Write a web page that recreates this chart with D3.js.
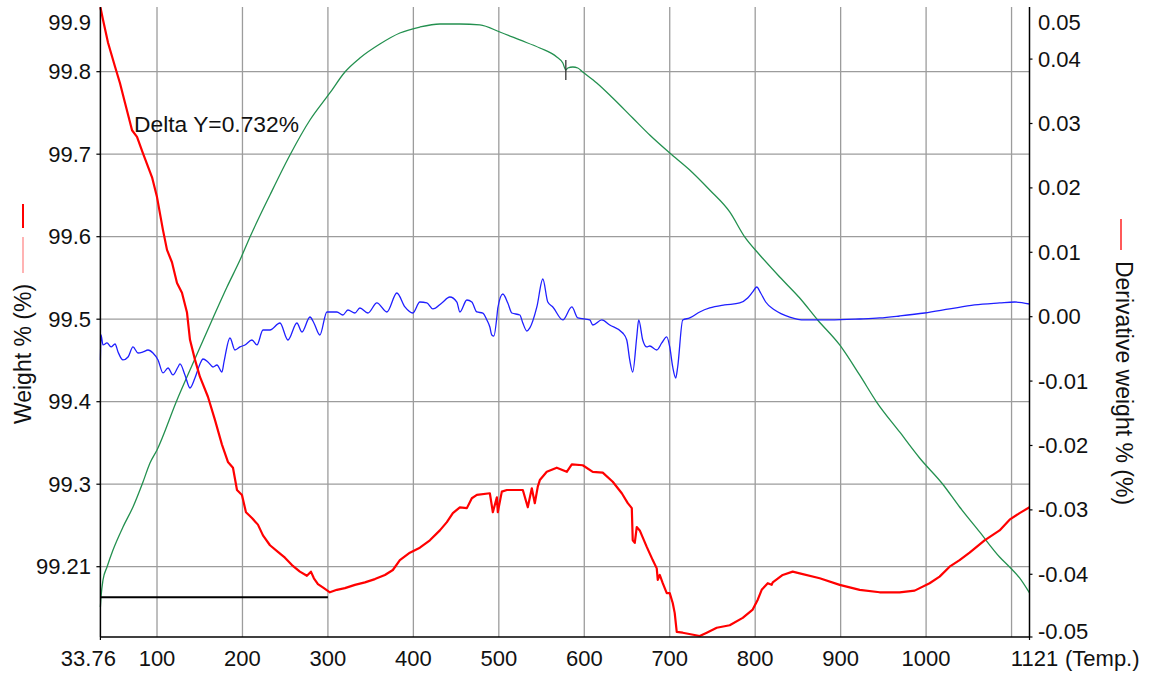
<!DOCTYPE html>
<html>
<head>
<meta charset="utf-8">
<script src="https://cdn.jsdelivr.net/npm/d3@7"></script>
<style>
  html, body { margin: 0; padding: 0; background: #fff; }
  svg { display: block; }
  text { font-family: "Liberation Sans", Arial, sans-serif; fill: #111; }
</style>
</head>
<body>
<svg id="chart" width="1154" height="674"></svg>
<script>
// ---- Weight % vs temperature (left axis) ----
const weightTemp = [33.76, 36.8, 42.7, 50.9, 56.7, 62.6, 70.8, 76.6, 83.6, 94.2, 100, 107, 111.7, 117.5, 123.4, 129.2, 135.1, 138.6, 144.4, 150.3, 159.6, 167.8, 176.0, 183.0, 188.9, 193.6, 199.4, 204.1, 211.1, 218.1, 224.0, 232.2, 241.5, 249.7, 257.9, 267.2, 275.4, 280.1, 283.6, 288.3, 295.3, 302.3, 310.5, 319.9, 331.6, 343.3, 355.0, 366.7, 376.0, 384.2, 395.9, 407.6, 419.3, 431.0, 439.2, 446.2, 454.4, 462.6, 468.4, 474.3, 489.5, 493.0, 497.7, 498.8, 503.5, 509.4, 528.1, 533.9, 538.6, 542.1, 545.6, 548.0, 556.1, 567.8, 579.5, 585.4, 598.2, 609.9, 621.6, 633.3, 643.9, 650.9, 655.6, 656.7, 659.1, 661.4, 664.9, 673.1, 680.1, 684.8, 686.0, 688.3, 691.8, 696.5, 700.0, 703.5, 705.8, 708.2, 715.2, 735.1, 743.3, 755.0, 770.2, 785.4, 797.1, 803.0, 807.6, 814.7, 819.3, 820.5, 832.2, 843.9, 852.1, 875.5, 898.9, 922.3, 945.6, 969.0, 986.6, 1004.1, 1015.8, 1027.5, 1039.2, 1050.9, 1068.4, 1086.0, 1097.7, 1109.4, 1121];
const weightPct = [99.878, 99.863, 99.835, 99.806, 99.786, 99.762, 99.729, 99.721, 99.701, 99.672, 99.648, 99.608, 99.584, 99.569, 99.544, 99.532, 99.508, 99.475, 99.451, 99.430, 99.406, 99.378, 99.348, 99.327, 99.320, 99.293, 99.287, 99.266, 99.259, 99.251, 99.238, 99.226, 99.218, 99.211, 99.202, 99.194, 99.189, 99.194, 99.186, 99.179, 99.174, 99.169, 99.172, 99.174, 99.178, 99.181, 99.185, 99.190, 99.196, 99.208, 99.217, 99.223, 99.232, 99.244, 99.254, 99.265, 99.272, 99.271, 99.283, 99.287, 99.289, 99.266, 99.284, 99.266, 99.291, 99.293, 99.293, 99.272, 99.295, 99.277, 99.297, 99.305, 99.315, 99.320, 99.315, 99.324, 99.323, 99.315, 99.314, 99.303, 99.289, 99.277, 99.271, 99.232, 99.229, 99.248, 99.244, 99.224, 99.208, 99.198, 99.184, 99.190, 99.180, 99.168, 99.168, 99.156, 99.144, 99.121, 99.120, 99.116, 99.120, 99.126, 99.129, 99.138, 99.148, 99.160, 99.172, 99.180, 99.178, 99.181, 99.190, 99.194, 99.192, 99.186, 99.178, 99.172, 99.169, 99.169, 99.171, 99.180, 99.188, 99.200, 99.208, 99.217, 99.232, 99.244, 99.257, 99.265, 99.272];

// ---- Derivative weight % vs temperature (right axis) ----
const derivTemp = [33.76, 34.5, 36.8, 41.5, 46.2, 50.9, 54.4, 60.2, 66.1, 71.9, 77.8, 83.6, 89.5, 95.3, 101.2, 107.0, 112.9, 118.7, 124.6, 126.9, 132.7, 138.6, 144.4, 150.3, 153.8, 159.6, 165.5, 170.2, 176.0, 178.4, 185.4, 191.2, 197.1, 202.9, 211.1, 217.0, 224.0, 232.2, 243.9, 253.2, 263.7, 269.6, 279.0, 283.6, 290.6, 298.8, 310.5, 317.5, 323.4, 331.6, 337.4, 346.8, 357.3, 369.0, 380.7, 390.1, 399.4, 407.6, 415.8, 422.8, 433.3, 442.7, 450.9, 454.4, 462.6, 468.4, 474.3, 481.3, 486.0, 489.5, 491.8, 494.2, 497.7, 498.8, 504.7, 510.5, 515.2, 524.6, 528.1, 532.8, 536.3, 544.5, 551.5, 557.3, 563.2, 574.9, 585.4, 592.4, 606.4, 610.0, 620.5, 629.8, 645.0, 649.7, 653.2, 656.7, 661.4, 663.7, 668.4, 673.1, 676.6, 684.8, 690.7, 696.5, 700.0, 703.5, 707.0, 709.3, 715.2, 723.4, 735.1, 746.8, 764.3, 781.9, 791.2, 797.1, 801.8, 806.4, 812.3, 822.8, 840.4, 857.9, 887.2, 922.2, 945.6, 969.0, 998.2, 1027.5, 1056.7, 1086.0, 1103.5, 1121];
const derivPct = [-0.00672, -0.00284, -0.00439, -0.00408, -0.00470, -0.00424, -0.00548, -0.00672, -0.00626, -0.00470, -0.00564, -0.00548, -0.00517, -0.00564, -0.00672, -0.00874, -0.00797, -0.00905, -0.00781, -0.00734, -0.00905, -0.01107, -0.00952, -0.00734, -0.00657, -0.00703, -0.00781, -0.00750, -0.00859, -0.00703, -0.00331, -0.00517, -0.00470, -0.00439, -0.00362, -0.00439, -0.00207, -0.00207, -0.00098, -0.00362, -0.00098, -0.00238, -0.00005, -0.00098, -0.00284, 0.00073, 0.00073, 0.00026, 0.00104, 0.00057, 0.00135, 0.00057, 0.00213, 0.00073, 0.00368, 0.00151, 0.00057, 0.00228, 0.00213, 0.00120, 0.00213, 0.00306, 0.00228, 0.00073, 0.00259, 0.00228, 0.00073, 0.00057, -0.00051, -0.00160, -0.00284, -0.00300, -0.00005, 0.00135, 0.00352, 0.00213, 0.00057, 0.00026, -0.00098, -0.00222, -0.00175, 0.00151, 0.00585, 0.00228, 0.00151, -0.00051, 0.00151, -0.00020, -0.00051, -0.00129, -0.00051, -0.00129, -0.00253, -0.00362, -0.00672, -0.00859, -0.00315, -0.00051, -0.00362, -0.00470, -0.00455, -0.00517, -0.00408, -0.00315, -0.00470, -0.00781, -0.00952, -0.00781, -0.00051, -0.00020, 0.00073, 0.00135, 0.00182, 0.00213, 0.00290, 0.00384, 0.00461, 0.00368, 0.00228, 0.00104, -0.00005, -0.00051, -0.00051, -0.00036, -0.00020, 0.00011, 0.00057, 0.00120, 0.00182, 0.00213, 0.00228, 0.00197];

// ---- Secondary signal (green trace, right axis) ----
const signalTemp = [33.76, 34.5, 36.8, 41.5, 48.5, 60.2, 71.9, 83.6, 91.8, 100, 123.4, 138.6, 165.5, 181.9, 197.1, 208.8, 232.2, 255.6, 279.0, 302.3, 319.9, 337.4, 360.8, 384.2, 407.6, 431.0, 454.4, 477.8, 501.2, 524.6, 548.0, 567.8, 574.9, 578.4, 580.7, 586.6, 592.4, 598.2, 614.6, 633.3, 656.7, 676.6, 700.0, 723.4, 746.8, 770.2, 787.7, 805.3, 828.7, 852.1, 873.1, 898.9, 922.2, 942.1, 969.0, 992.4, 1019.3, 1039.2, 1062.6, 1086.0, 1097.7, 1109.4, 1121];
const signalVal = [-0.04508, -0.04352, -0.04089, -0.03887, -0.03623, -0.03266, -0.02955, -0.02567, -0.02272, -0.02070, -0.01293, -0.00828, -0.00020, 0.00461, 0.00880, 0.01238, 0.01890, 0.02511, 0.03054, 0.03474, 0.03800, 0.04017, 0.04234, 0.04405, 0.04498, 0.04545, 0.04545, 0.04530, 0.04421, 0.04297, 0.04172, 0.04033, 0.03939, 0.03831, 0.03862, 0.03877, 0.03862, 0.03800, 0.03629, 0.03396, 0.03085, 0.02821, 0.02542, 0.02278, 0.01967, 0.01626, 0.01238, 0.00958, 0.00616, 0.00290, -0.00051, -0.00439, -0.00905, -0.01325, -0.01790, -0.02194, -0.02598, -0.02955, -0.03343, -0.03731, -0.03887, -0.04057, -0.04290];

// cursor marker on the green trace
const markerTemp = 578.4;
const markerVal = 0.03831;

// Delta Y annotation: minimum weight level up to 300 °C
const deltaLevel = 99.163;
const deltaFrom = 33.76;
const deltaTo = 300;
const deltaText = "Delta Y=0.732%";

// ---- axes ----
const xDomain = [33.76, 1121];
const xGridValues = [100, 200, 300, 400, 500, 600, 700, 800, 900, 1000, 1100];
const xTickValues = [33.76, 100, 200, 300, 400, 500, 600, 700, 800, 900, 1000, 1121];
const xTickLabels = ["33.76", "100", "200", "300", "400", "500", "600", "700", "800", "900", "1000", "1121"];
const xUnitLabel = "(Temp.)";

const leftDomain = [99.1148, 99.8784];
const leftTickValues = [99.2, 99.3, 99.4, 99.5, 99.6, 99.7, 99.8, 99.9];
const leftTickLabels = ["99.21", "99.3", "99.4", "99.5", "99.6", "99.7", "99.8", "99.9"];
const leftTitle = "Weight % (%)";

const rightDomain = [-0.04974, 0.04809];
const rightTickValues = [-0.05, -0.04, -0.03, -0.02, -0.01, 0.00, 0.01, 0.02, 0.03, 0.04, 0.05];
const rightTickLabels = ["-0.05", "-0.04", "-0.03", "-0.02", "-0.01", "0.00", "0.01", "0.02", "0.03", "0.04", "0.05"];
const rightTitle = "Derivative weight % (%)";

// ---- layout ----
const plot = { left: 100.4, right: 1029.5, top: 7, bottom: 637 };
const svg = d3.select("#chart");

const x = d3.scaleLinear().domain(xDomain).range([plot.left, plot.right]);
const yL = d3.scaleLinear().domain(leftDomain).range([plot.bottom, plot.top]);
const yR = d3.scaleLinear().domain(rightDomain).range([plot.bottom, plot.top]);

const clampY = v => Math.max(plot.top, Math.min(plot.bottom, v));
const labelY = v => Math.max(plot.top + 15, Math.min(plot.bottom - 6, v));

const TICK_FONT = 22;

// grid
const grid = svg.append("g").attr("stroke", "#9c9c9c").attr("stroke-width", 1.3);
grid.selectAll("line.v").data(xGridValues).join("line")
  .attr("x1", d => x(d)).attr("x2", d => x(d))
  .attr("y1", plot.top).attr("y2", plot.bottom);
grid.selectAll("line.h").data(leftTickValues.filter(v => v <= leftDomain[1])).join("line")
  .attr("x1", plot.left).attr("x2", plot.right)
  .attr("y1", d => yL(d)).attr("y2", d => yL(d));

// curves
const lineOf = (xs, ys, yScale, curve) => d3.line()
  .curve(curve || d3.curveLinear)
  .x((d, i) => x(xs[i]))
  .y((d, i) => yScale(ys[i]))(xs);

svg.append("path").attr("d", lineOf(signalTemp, signalVal, yR, d3.curveMonotoneX))
  .attr("fill", "none").attr("stroke", "#23904f").attr("stroke-width", 1.3);

svg.append("path").attr("d", lineOf(derivTemp, derivPct, yR, d3.curveMonotoneX))
  .attr("fill", "none").attr("stroke", "#1f1fff").attr("stroke-width", 1.3);

svg.append("path").attr("d", lineOf(weightTemp, weightPct, yL))
  .attr("fill", "none").attr("stroke", "#ff0000").attr("stroke-width", 2.2)
  .attr("stroke-linejoin", "round");

// marker on green trace
svg.append("line")
  .attr("x1", x(markerTemp)).attr("x2", x(markerTemp))
  .attr("y1", yR(markerVal) - 10).attr("y2", yR(markerVal) + 10)
  .attr("stroke", "#333").attr("stroke-width", 1.3);

// delta Y annotation
svg.append("line")
  .attr("x1", x(deltaFrom)).attr("x2", x(deltaTo))
  .attr("y1", yL(deltaLevel)).attr("y2", yL(deltaLevel))
  .attr("stroke", "#000").attr("stroke-width", 1.8);
svg.append("text").attr("x", 134).attr("y", 132)
  .attr("font-size", 22.8).text(deltaText);

// axis lines
const axes = svg.append("g").attr("stroke", "#000").attr("stroke-width", 1.5);
axes.append("line").attr("x1", plot.left).attr("x2", plot.left).attr("y1", plot.top).attr("y2", plot.bottom);
axes.append("line").attr("x1", plot.right).attr("x2", plot.right).attr("y1", plot.top).attr("y2", plot.bottom);
axes.append("line").attr("x1", plot.left).attr("x2", plot.right).attr("y1", plot.bottom).attr("y2", plot.bottom);

// left ticks
const leftTicks = leftTickValues.map((v, i) => ({ v, label: leftTickLabels[i] }));
svg.append("g").selectAll("line").data(leftTicks.filter(d => d.v <= leftDomain[1])).join("line")
  .attr("x1", plot.left - 4).attr("x2", plot.left)
  .attr("y1", d => yL(d.v)).attr("y2", d => yL(d.v))
  .attr("stroke", "#000").attr("stroke-width", 1.2);
svg.append("g").selectAll("text").data(leftTicks).join("text")
  .attr("x", 91).attr("y", d => labelY(yL(d.v)))
  .attr("text-anchor", "end").attr("dominant-baseline", "central")
  .attr("font-size", TICK_FONT).text(d => d.label);

// right ticks
const rightTicks = rightTickValues.map((v, i) => ({ v, label: rightTickLabels[i] }));
svg.append("g").selectAll("line").data(rightTicks.filter(d => d.v <= rightDomain[1])).join("line")
  .attr("x1", plot.right).attr("x2", plot.right + 3)
  .attr("y1", d => clampY(yR(d.v))).attr("y2", d => clampY(yR(d.v)))
  .attr("stroke", "#000").attr("stroke-width", 1.2);
svg.append("g").selectAll("text").data(rightTicks).join("text")
  .attr("x", 1038).attr("y", d => labelY(yR(d.v)))
  .attr("text-anchor", "start").attr("dominant-baseline", "central")
  .attr("font-size", TICK_FONT).text(d => d.label);

// bottom ticks + labels
svg.append("g").selectAll("line").data([xDomain[0], xDomain[1]]).join("line")
  .attr("x1", d => x(d)).attr("x2", d => x(d))
  .attr("y1", plot.bottom).attr("y2", plot.bottom + 3)
  .attr("stroke", "#000").attr("stroke-width", 1.2);
const xTicks = xTickValues.map((v, i) => ({ v, label: xTickLabels[i] }));
svg.append("g").selectAll("text").data(xTicks).join("text")
  .attr("x", (d, i) => x(d.v) + (i === 0 ? -12 : (i === xTicks.length - 1 ? 5 : 0)))
  .attr("y", 658)
  .attr("text-anchor", "middle").attr("dominant-baseline", "central")
  .attr("font-size", TICK_FONT).text(d => d.label);
svg.append("text").attr("x", 1065).attr("y", 658)
  .attr("dominant-baseline", "central").attr("font-size", TICK_FONT).text(xUnitLabel);

// axis titles with legend line samples
svg.append("text")
  .attr("transform", "translate(23,354) rotate(-90)")
  .attr("text-anchor", "middle").attr("dominant-baseline", "central")
  .attr("font-size", 23).text(leftTitle);
svg.append("line").attr("x1", 23).attr("x2", 23).attr("y1", 204).attr("y2", 228)
  .attr("stroke", "#ff0000").attr("stroke-width", 2);
svg.append("line").attr("x1", 23).attr("x2", 23).attr("y1", 237).attr("y2", 273)
  .attr("stroke", "#ff9a9a").attr("stroke-width", 1.5);

svg.append("text")
  .attr("transform", "translate(1124,383) rotate(90)")
  .attr("text-anchor", "middle").attr("dominant-baseline", "central")
  .attr("font-size", 23).text(rightTitle);
svg.append("line").attr("x1", 1121).attr("x2", 1121).attr("y1", 219).attr("y2", 250)
  .attr("stroke", "#ff0000").attr("stroke-width", 1.3);
</script>
</body>
</html>
